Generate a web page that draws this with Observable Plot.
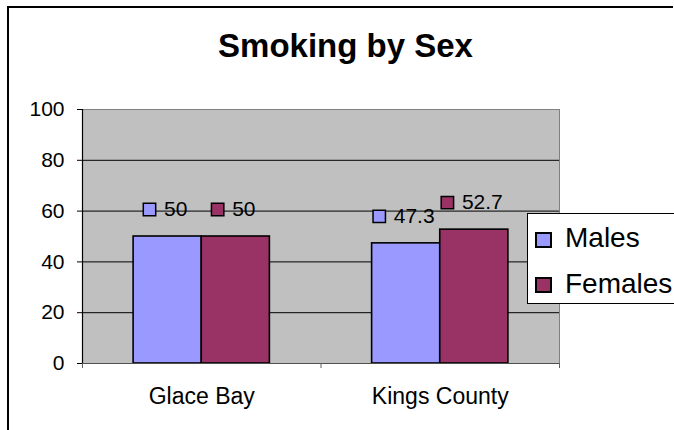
<!DOCTYPE html>
<html>
<head>
<meta charset="utf-8">
<script src="https://cdn.jsdelivr.net/npm/d3@7"></script>
<script src="https://cdn.jsdelivr.net/npm/@observablehq/plot@0.6"></script>
<style>
  html, body { margin: 0; padding: 0; background: #fff; overflow: hidden; width: 674px; height: 430px; }
  #wrap { position: relative; width: 674px; height: 430px; overflow: hidden; background: #fff;
          font-family: "Liberation Sans", Arial, sans-serif; clip-path: inset(0); }
  #topline { position: absolute; left: 7px; top: 6px; width: 666px; height: 2px; background: #000; }
  #leftline { position: absolute; left: 7px; top: 6px; width: 2px; height: 424px; background: #000; }
  #title { position: absolute; left: 0; top: 29px; width: 691px; text-align: center;
           font-size: 33px; line-height: 33px; font-weight: bold; color: #000; white-space: nowrap; }
  #chart { position: absolute; left: 0; top: 80px; }
  #legend { position: absolute; left: 527px; top: 213px; width: 147px; height: 91px;
            background: #fff; border: 1px solid #000; border-right: none; box-sizing: border-box; overflow: hidden; }
  .key { position: absolute; left: 7px; width: 17px; height: 16px; border: 2px solid #000; box-sizing: border-box; }
  .lab { position: absolute; left: 37px; font-size: 28px; line-height: 28px; color: #000; white-space: nowrap; }
</style>
</head>
<body>
<div id="wrap">
  <div id="title"></div>
  <div id="chart"></div>
  <div id="legend"></div>
  <div id="topline"></div>
  <div id="leftline"></div>
</div>
<script>
const title = "Smoking by Sex";
const categories = ["Glace Bay", "Kings County"];
const series = ["Males", "Females"];
const males = [50, 47.3];
const females = [50, 52.7];
const yTicks = [0, 20, 40, 60, 80, 100];
const gridTicks = [20, 40, 60, 80];
const colors = ["#9999FF", "#993366"];

const seriesValues = [males, females];
const gapWidth = 1.5; // Excel-style gap width (150%)
const barW = 1 / (series.length + gapWidth);
const start = (gapWidth / 2) * barW;

const width = 674, height = 350;
const marginLeft = 82, marginRight = 115, marginTop = 29, marginBottom = 67;
const pxPerUnit = (width - marginLeft - marginRight) / categories.length;

const canvas = document.createElement("canvas");
const ctx = canvas.getContext("2d");
ctx.font = "21px 'Liberation Sans', Arial, sans-serif";

const rows = [];
categories.forEach((cat, ci) => {
  series.forEach((s, sj) => {
    const v = seriesValues[sj][ci];
    const x1 = ci + start + sj * barW;
    const x2 = x1 + barW;
    const xc = (x1 + x2) / 2;
    const label = String(v);
    const tw = ctx.measureText(label).width;
    const W = 13 + 8 + tw;
    rows.push({
      cat, s, v, x1, x2, label,
      keyX: xc + (-W / 2 + 6.5 - 2.5) / pxPerUnit,
      textX: xc + (W / 2 - 2.5) / pxPerUnit
    });
  });
});

document.getElementById("title").textContent = title;

const plot = Plot.plot({
  width, height, marginLeft, marginRight, marginTop, marginBottom,
  style: { fontFamily: "'Liberation Sans', Arial, sans-serif", color: "#000", background: "transparent" },
  x: { domain: [0, categories.length], label: null },
  y: { domain: [0, 100], label: null },
  color: { domain: series, range: colors },
  marks: [
    Plot.frame({ fill: "#C0C0C0", stroke: "#808080" }),
    Plot.gridY(gridTicks, { stroke: "#000", strokeOpacity: 1, strokeWidth: 1 }),
    Plot.rectY(rows, { x1: "x1", x2: "x2", y1: 0, y2: "v", fill: "s", stroke: "#000", strokeWidth: 1.6 }),
    Plot.ruleY([0], { stroke: "#505050", strokeWidth: 1.2 }),
    Plot.ruleX([0], { stroke: "#000", strokeWidth: 1.2 }),
    Plot.axisY({ ticks: yTicks, tickSize: 5, tickPadding: 13, fontSize: 21, stroke: "#000", label: null }),
    Plot.axisX({ ticks: d3.range(categories.length + 1), tickSize: 5, tickFormat: () => "", stroke: "#606060", label: null }),
    Plot.axisX({ ticks: categories.map((c, i) => i + 0.5), tickSize: 0, tickPadding: 24, fontSize: 23,
                 tickFormat: d => categories[Math.floor(d)], label: null }),
    Plot.dot(rows, { x: "keyX", y: "v", dy: -27, symbol: "square", r: 7, fill: "s", stroke: "#000", strokeWidth: 1.5 }),
    Plot.text(rows, { x: "textX", y: "v", dy: -27, text: "label", textAnchor: "end", fontSize: 21, fill: "#000" })
  ]
});
document.getElementById("chart").appendChild(plot);

const legend = document.getElementById("legend");
series.forEach((s, i) => {
  const key = document.createElement("div");
  key.className = "key";
  key.style.top = (18 + i * 45) + "px";
  key.style.background = colors[i];
  legend.appendChild(key);
  const lab = document.createElement("div");
  lab.className = "lab";
  lab.style.top = (10 + i * 46) + "px";
  lab.textContent = s;
  legend.appendChild(lab);
});
</script>
</body>
</html>
